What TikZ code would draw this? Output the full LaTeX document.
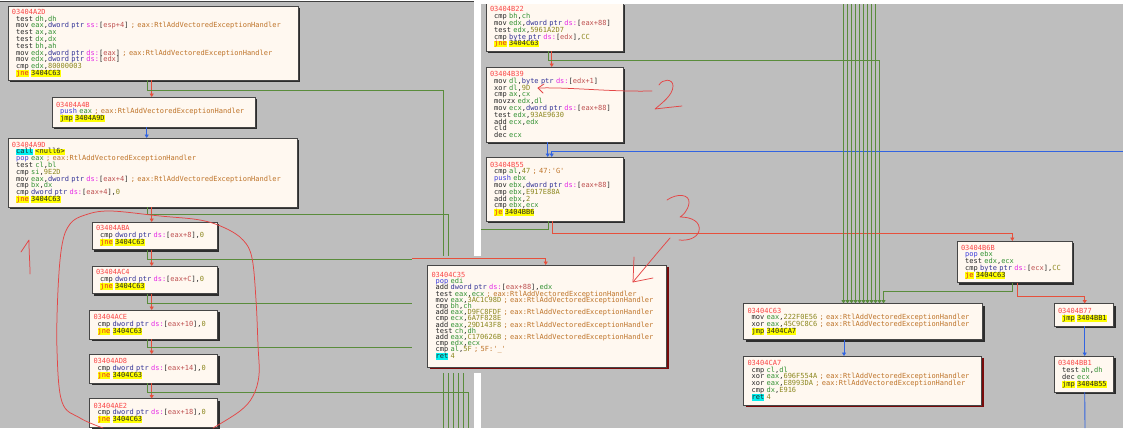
\documentclass[tikz,border=0pt]{standalone}
\usepackage{fontspec}
\setmonofont{DejaVu Sans Mono}
\usetikzlibrary{arrows.meta,shadows}

\definecolor{bgc}{RGB}{190,190,190}
\definecolor{blkf}{RGB}{255,248,240}
\definecolor{bdr}{RGB}{70,70,70}
\definecolor{shd}{RGB}{45,45,45}
\definecolor{retsh}{RGB}{120,10,10}
\definecolor{addrc}{RGB}{250,70,70}
\definecolor{regc}{RGB}{50,145,50}
\definecolor{cstc}{RGB}{140,135,30}
\definecolor{ptrc}{RGB}{50,50,150}
\definecolor{segc}{RGB}{230,40,230}
\definecolor{memc}{RGB}{190,80,80}
\definecolor{cmtc}{RGB}{190,115,40}
\definecolor{stkc}{RGB}{60,60,220}
\definecolor{jbg}{RGB}{255,255,0}
\definecolor{jccc}{RGB}{230,40,40}
\definecolor{cbg}{RGB}{0,240,240}
\definecolor{grn}{RGB}{90,140,60}
\definecolor{rdl}{RGB}{230,80,60}
\definecolor{blu}{RGB}{50,100,225}
\definecolor{penc}{RGB}{228,70,70}

%listing colours
\newcommand\asmf[1]{\ttfamily\fontsize{7}{#1}\selectfont\spaceskip=0.602em\relax\xspaceskip=0.602em\relax\lineskiplimit=-20pt\relax}
\newcommand\ind{\phantom{0}}
\newcommand\adr[1]{\textcolor{addrc}{#1}}
\newcommand\rgs[1]{\textcolor{regc}{#1}}
\newcommand\cst[1]{\textcolor{cstc}{#1}}
\newcommand\szp[1]{\textcolor{ptrc}{#1}}
\newcommand\seg[1]{\textcolor{segc}{#1:}}
\newcommand\mem[1]{[\textcolor{memc}{#1}]}
\newcommand\cmt[1]{\textcolor{cmtc}{; #1}}
\newcommand\rtlc{\cmt{eax:RtlAddVectoredExceptionHandler}}
\newcommand\stk[1]{\textcolor{stkc}{#1}}
\newcommand\hly[1]{{\setlength\fboxsep{0pt}\colorbox{jbg}{\rule[-1.5pt]{0pt}{6.2pt}#1}}}
\newcommand\hlc[1]{{\setlength\fboxsep{0pt}\colorbox{cbg}{\rule[-1.5pt]{0pt}{6.2pt}#1}}}
\newcommand\jcc[1]{\hly{\textcolor{jccc}{#1}}}

\tikzset{
    %Define standard arrow tip
    >={Triangle[length=3.5pt,width=4pt]},
    %Define style for blocks
    base/.style={
           rectangle,
           draw=bdr, line width=0.6pt,
           fill=blkf,
           anchor=north west,
           inner xsep=4pt, inner ysep=0pt, outer sep=0pt,
           align=left,
           text width=#1,
           text=black!85,
           font=\asmf{6.8}},
    blk/.style={
           base=#1,
           drop shadow={shadow xshift=2pt,shadow yshift=-2pt,fill=shd,opacity=1}},
    retblk/.style={
           base=#1,
           drop shadow={shadow xshift=2pt,shadow yshift=-2pt,fill=retsh,opacity=1}},
    % Define edge styles
    jtrue/.style={->, draw=grn, line width=0.9pt},
    jfalse/.style={->, draw=rdl, line width=0.9pt},
    juncond/.style={->, draw=blu, line width=0.9pt},
    pen/.style={draw=penc, line width=0.75pt, line cap=round, line join=round}
}

\begin{document}
\begin{tikzpicture}[x=1pt,y=-1pt]
\useasboundingbox (0,0) rectangle (1123,428);
\fill[white] (0,0) rectangle (1123,428);
\fill[bgc] (0,2) rectangle (474,428);
\draw[black!75,line width=0.8pt] (0,1.6) -- (474,1.6);
\fill[bgc] (481,0) rectangle (1123,428);

% off-screen ends
\coordinate (gA) at (443,428);
\coordinate (g9D) at (448,428);
\coordinate (gBA) at (453,428);
\coordinate (gC4) at (458,428);
\coordinate (gCE) at (463,428);
\coordinate (gD8) at (468,428);
\coordinate (bk) at (1123,151);
\coordinate (gBB6) at (481,229.3);
\coordinate (bB1) at (1085,428);
\coordinate (p35) at (412,258);

% left graph
\node[blk=282pt, minimum height=74] (n2D) at (8,6) {\adr{03404A2D}\\
\ind test \rgs{dh},\rgs{dh}\\
\ind mov \rgs{eax},\szp{dword ptr} \seg{ss}\mem{esp+4} \rtlc\\
\ind test \rgs{ax},\rgs{ax}\\
\ind test \rgs{dx},\rgs{dx}\\
\ind test \rgs{bh},\rgs{ah}\\
\ind mov \rgs{edx},\szp{dword ptr} \seg{ds}\mem{eax} \rtlc\\
\ind mov \rgs{edx},\szp{dword ptr} \seg{ds}\mem{edx}\\
\ind cmp \rgs{edx},\cst{80000003}\\
\ind\jcc{jne} \hly{3404C63}};
\node[blk=195pt, minimum height=30] (n4B) at (52,97) {\adr{03404A4B}\\
\ind\stk{push} \rgs{eax} \rtlc\\
\ind\hly{jmp} \hly{3404A9D}};
\node[blk=281pt, minimum height=69] (n9D) at (8,138) {\adr{03404A9D}\\
\ind\hlc{call} \hly{<null6>}\\
\ind\stk{pop} \rgs{eax} \rtlc\\
\ind test \rgs{cl},\rgs{bl}\\
\ind cmp \rgs{si},\cst{9E2D}\\
\ind mov \rgs{eax},\szp{dword ptr} \seg{ds}\mem{eax+4} \rtlc\\
\ind cmp \rgs{bx},\rgs{dx}\\
\ind cmp \szp{dword ptr} \seg{ds}\mem{eax+4},\cst{0}\\
\ind\jcc{jne} \hly{3404C63}};
\node[blk=117pt, minimum height=27.5] (nBA) at (92,222) {\adr{03404ABA}\\
\ind cmp \szp{dword ptr} \seg{ds}\mem{eax+8},\cst{0}\\
\ind\jcc{jne} \hly{3404C63}};
\node[blk=117pt, minimum height=27.5] (nC4) at (92,266) {\adr{03404AC4}\\
\ind cmp \szp{dword ptr} \seg{ds}\mem{eax+C},\cst{0}\\
\ind\jcc{jne} \hly{3404C63}};
\node[blk=120pt, minimum height=29] (nCE) at (89.5,310) {\adr{03404ACE}\\
\ind cmp \szp{dword ptr} \seg{ds}\mem{eax+10},\cst{0}\\
\ind\jcc{jne} \hly{3404C63}};
\node[blk=120pt, minimum height=29] (nD8) at (89.5,354) {\adr{03404AD8}\\
\ind cmp \szp{dword ptr} \seg{ds}\mem{eax+14},\cst{0}\\
\ind\jcc{jne} \hly{3404C63}};
\node[blk=120pt, minimum height=29] (nE2) at (89.5,398.5) {\adr{03404AE2}\\
\ind cmp \szp{dword ptr} \seg{ds}\mem{eax+18},\cst{0}\\
\ind\jcc{jne} \hly{3404C63}};

\draw[jfalse] ([xshift=143.7pt]n2D.south west) -- ([xshift=99.7pt]n4B.north west);
\draw[jtrue,-] ([xshift=139.5pt]n2D.south west) -- ++(0,10) -| (gA);
\draw[juncond] ([xshift=94.7pt]n4B.south west) -- ([xshift=138.7pt]n9D.north west);
\draw[jfalse] ([xshift=143.7pt]n9D.south west) -- ([xshift=59.7pt]nBA.north west);
\draw[jtrue,-] ([xshift=139.3pt]n9D.south west) -- ++(0,7) -| (g9D);
\draw[jfalse] ([xshift=59.7pt]nBA.south west) -- ([xshift=59.7pt]nC4.north west);
\draw[jtrue,-] ([xshift=55.3pt]nBA.south west) -- ++(0,9.5) -| (gBA);
\draw[jfalse] ([xshift=59.7pt]nC4.south west) -- ([xshift=62.2pt]nCE.north west);
\draw[jtrue,-] ([xshift=55.3pt]nC4.south west) -- ++(0,9.5) -| (gC4);
\draw[jfalse] ([xshift=62.2pt]nCE.south west) -- ([xshift=62.2pt]nD8.north west);
\draw[jtrue,-] ([xshift=57.8pt]nCE.south west) -- ++(0,8.5) -| (gCE);
\draw[jfalse] ([xshift=62.2pt]nD8.south west) -- ([xshift=62.2pt]nE2.north west);
\draw[jtrue,-] ([xshift=57.8pt]nD8.south west) -- ++(0,9) -| (gD8);

% right graph
\node[blk=129pt, minimum height=48] (n22) at (486,3) {\adr{03404B22}\\
\ind cmp \rgs{bh},\rgs{ch}\\
\ind mov \rgs{edx},\szp{dword ptr} \seg{ds}\mem{eax+88}\\
\ind test \rgs{edx},\cst{5961A2D7}\\
\ind cmp \szp{byte ptr} \seg{ds}\mem{edx},\cst{CC}\\
\ind\jcc{jne} \hly{3404C63}};
\node[blk=129pt, minimum height=75] (n39) at (486,67) {\adr{03404B39}\\
\ind mov \rgs{dl},\szp{byte ptr} \seg{ds}\mem{edx+1}\\
\ind xor \rgs{dl},\cst{9D}\\
\ind cmp \rgs{ax},\rgs{cx}\\
\ind movzx \rgs{edx},\rgs{dl}\\
\ind mov \rgs{ecx},\szp{dword ptr} \seg{ds}\mem{eax+88}\\
\ind test \rgs{edx},\cst{93AE9630}\\
\ind add \rgs{ecx},\rgs{edx}\\
\ind cld\\
\ind dec \rgs{ecx}};
\node[blk=129pt, minimum height=64] (n55) at (486,157) {\adr{03404B55}\\
\ind cmp \rgs{al},\cst{47} \cmt{47:'G'}\\
\ind\stk{push} \rgs{ebx}\\
\ind mov \rgs{ebx},\szp{dword ptr} \seg{ds}\mem{eax+88}\\
\ind cmp \rgs{ebx},\cst{E917E88A}\\
\ind add \rgs{ebx},\cst{2}\\
\ind cmp \rgs{ebx},\rgs{ecx}\\
\ind\jcc{je} \hly{3404BB6}};
\node[blk=107pt, minimum height=41.5] (n6B) at (957,241) {\adr{03404B6B}\\
\ind\stk{pop} \rgs{ebx}\\
\ind test \rgs{edx},\rgs{ecx}\\
\ind cmp \szp{byte ptr} \seg{ds}\mem{ecx},\cst{CC}\\
\ind\jcc{je} \hly{3404C63}};
\node[blk=51.5pt, minimum height=22.5] (n77) at (1054,303.5) {\adr{03404B77}\\
\ind\hly{jmp} \hly{3404BB1}};
\node[blk=51.5pt, minimum height=36] (nB1) at (1054,356) {\adr{03404BB1}\\
\ind test \rgs{ah},\rgs{dh}\\
\ind dec \rgs{ecx}\\
\ind\hly{jmp} \hly{3404B55}};
\node[blk=231pt, minimum height=36] (n63) at (743.5,303.5) {\adr{03404C63}\\
\ind mov \rgs{eax},\cst{222F0E56} \rtlc\\
\ind xor \rgs{eax},\cst{45C9C8C6} \rtlc\\
\ind\hly{jmp} \hly{3404CA7}};
\node[retblk=230pt, minimum height=49] (nA7) at (743.5,356) {\adr{03404CA7}\\
\ind cmp \rgs{cl},\rgs{dl}\\
\ind xor \rgs{eax},\cst{696F554A} \rtlc\\
\ind xor \rgs{eax},\cst{E8993DA} \rtlc\\
\ind cmp \rgs{dx},\cst{E916}\\
\ind\hlc{ret} \cst{4}};

\draw[jfalse] ([xshift=65.7pt]n22.south west) -- ([xshift=65.7pt]n39.north west);
\draw[jtrue] ([xshift=62pt]n22.south west) -- ++(0,9) -| ([xshift=136pt]n63.north west);
\draw[juncond] ([xshift=61.7pt]n39.south west) -- ([xshift=61.7pt]n55.north west);
\draw[juncond] (bk) -| ([xshift=65.7pt]n55.north west);
\draw[jtrue,-] ([xshift=62.3pt]n55.south west) |- (gBB6);
\draw[jfalse] ([xshift=66.3pt]n55.south west) -- ++(0,12.5) -| ([xshift=55.3pt]n6B.north west);
\draw[jtrue] ([xshift=55.3pt]n6B.south west) -- ++(0,8.5) -| ([xshift=140pt]n63.north west);
\draw[jfalse] ([xshift=60.3pt]n6B.south west) -- ++(0,13.5) -| ([xshift=30.7pt]n77.north west);
\draw[juncond] ([xshift=30.7pt]n77.south west) -- ([xshift=30.7pt]nB1.north west);
\draw[juncond,-] ([xshift=30.7pt]nB1.south west) -- (bB1);
\draw[juncond] ([xshift=100.5pt]n63.south west) -- ([xshift=100.5pt]nA7.north west);
\foreach \k in {0,...,8} {
  \coordinate (top\k) at ({843.5+4*\k},4);
  \draw[jtrue] (top\k) -- (top\k |- n63.north);
}
\fill[white] (481,0) rectangle (1123,4);

% pasted block
\fill[bgc] (412,255.5) rectangle (672,373);
\node[retblk=231pt, minimum height=102, font=\asmf{6.2}] (n35) at (427.5,265) {\adr{03404C35}\\
\ind\stk{pop} \rgs{edi}\\
\ind add \szp{dword ptr} \seg{ds}\mem{eax+88},\rgs{edx}\\
\ind test \rgs{eax},\rgs{ecx} \rtlc\\
\ind mov \rgs{eax},\cst{3AC1C98D} \rtlc\\
\ind cmp \rgs{bh},\rgs{ch}\\
\ind add \rgs{eax},\cst{D9FC8FDF} \rtlc\\
\ind cmp \rgs{ecx},\cst{6A7F828E}\\
\ind add \rgs{eax},\cst{29D143F8} \rtlc\\
\ind test \rgs{ch},\rgs{dh}\\
\ind add \rgs{eax},\cst{C170626B} \rtlc\\
\ind cmp \rgs{edx},\rgs{ecx}\\
\ind cmp \rgs{al},\cst{5F} \cmt{5F:'\_'}\\
\ind\hlc{ret} \cst{4}};
\draw[jfalse] (p35) -| ([xshift=118.2pt]n35.north west);

% hand notes
\draw[pen] plot[smooth, tension=0.6] coordinates {(103,428) (80,418) (62,402) (57,350) (58,290) (62,245) (70,224) (85,215) (110,211) (160,216) (200,220) (225,228) (243,240) (252,258) (256,300) (258,345) (259,375) (253,396) (240,411) (213,428)};
\draw[pen] (21,252) -- (29,240) .. controls (29,255) and (30,262) .. (30,274);
\draw[pen] (652,91) .. controls (610,92) and (570,87) .. (538,88);
\draw[pen] (544,84) -- (538,88) -- (543,93);
\draw[pen] (659,85) .. controls (662,79) and (673,78) .. (673,86) .. controls (673,95) and (662,103) .. (655,109) -- (668,107.5) -- (682,106);
\draw[pen] (667,200) .. controls (677,193) and (690,194) .. (689,203) .. controls (688,211) and (682,216) .. (680,217) .. controls (692,217) and (701,222) .. (699,231) .. controls (697,238) and (688,241) .. (679,240);
\draw[pen] (670,238) .. controls (658,252) .. (633,282);
\draw[pen] (634,257) -- (633,282) -- (653,278);
\end{tikzpicture}
\end{document}
